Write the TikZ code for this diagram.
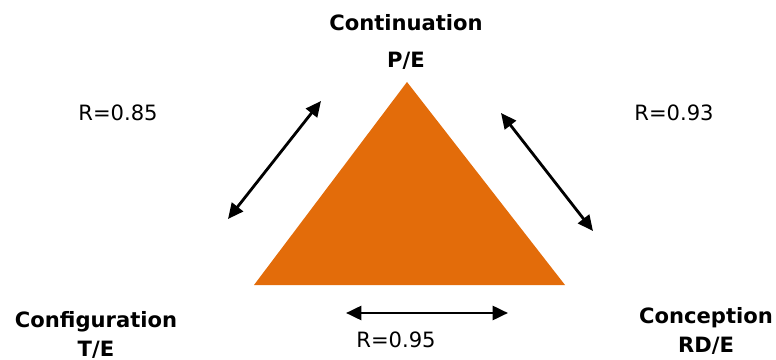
\documentclass[tikz,border=0pt]{standalone}
\usepackage{fontspec}
\setmainfont{DejaVu Sans}
\usetikzlibrary{arrows.meta,positioning}
\definecolor{triorange}{HTML}{E36C0A}
\tikzset{
  corner/.style={align=center, font=\bfseries\fontsize{15}{21}\selectfont, inner sep=0pt},
  rval/.style={font=\fontsize{15}{18}\selectfont, inner sep=0pt},
  link/.style={{Triangle[length=11pt,width=10pt]}-{Triangle[length=11pt,width=10pt]}, line width=2pt},
}
\begin{document}
\begin{tikzpicture}[x=0.025cm,y=-0.025cm]
  \useasboundingbox (0,0) rectangle (776,360);
  % triangle
  \coordinate (apex) at (407,82);
  \coordinate (bl) at (254,285);
  \coordinate (br) at (565,285);
  \fill[triorange] (apex)--(bl)--(br)--cycle;
  % corner labels
  \node[corner] (cont) at (406,42) {Continuation\\[5pt]P/E};
  \node[corner] (conf) at (96,335) {Configuration\\T/E};
  \node[corner] (conc) at (706,331) {Conception\\RD/E};
  % arrow ends
  \coordinate (la) at (228,219);
  \coordinate (lb) at (321,101);
  \coordinate (ra) at (501,113);
  \coordinate (rb) at (593,231);
  \coordinate (ba) at (346,313);
  \coordinate (bb) at (508,313);
  \draw[link] (la)--(lb);
  \draw[link] (ra)--(rb);
  \draw[link] (ba)--(bb);
  % values
  \node[rval] (r1) at (118,113) {R=0.85};
  \node[rval] (r2) at (674,113) {R=0.93};
  \node[rval] (r3) at (396,340) {R=0.95};
\end{tikzpicture}
\end{document}
